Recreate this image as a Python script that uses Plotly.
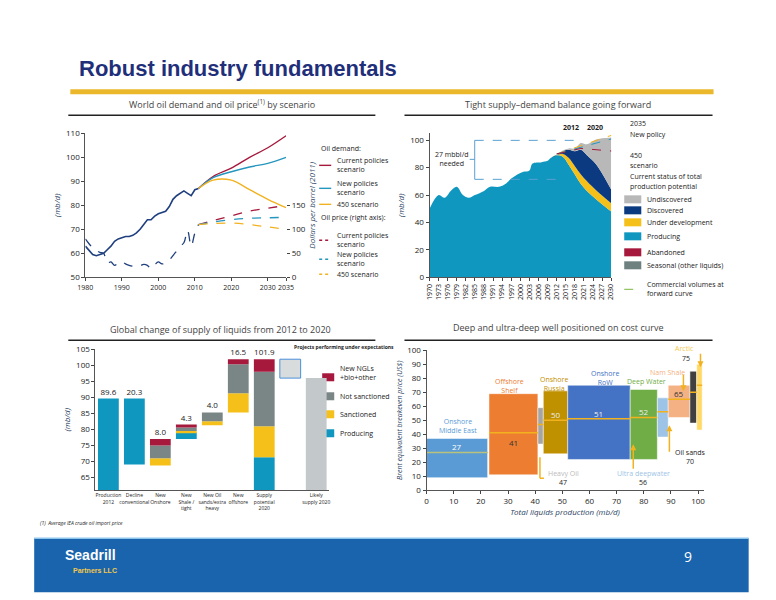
import plotly.graph_objects as go

W, H = 776, 600
# compensation for the small rescale observed in the rendered photograph
def px(x): return ((x - 9.9) / 0.976) / W
def py(y): return 1 - ((y - 5.6) / 0.982) / H

# ---------- Panel 1 data ----------
hist_years = list(range(1980, 2012))
demand_hist = [63, 61, 59.5, 59, 59.5, 60, 61.5, 63, 65, 66, 66.5, 67, 67, 67.5, 68.5, 70,
               72, 74, 74, 75.5, 76.5, 77, 77.5, 79.5, 82.5, 84, 85, 86, 85, 84, 86.5, 87]
price_hist = [80, 70, 62, 56, 52, 50, 30, 32, 25, 30, 33, 28, 25, 23, 22, 24,
              27, 25, 18, 26, 32, 28, 30, 36, 45, 55, 65, 72, 98, 65, 92, 110]
proj_years = [2011, 2015, 2020, 2025, 2030, 2035]
demand_cur = [87, 92, 95.5, 100, 104, 109]
demand_new = [87, 91.5, 94, 96, 97.5, 100]
demand_450 = [87, 90.5, 90.5, 86.5, 82.5, 79]
price_cur = [110, 118, 128, 138, 144, 150]
price_new = [110, 115, 120, 123, 124, 125]
price_450 = [110, 112, 113, 110, 105, 100]

# ---------- Panel 2 data ----------
sup_years = [1970, 1973, 1975, 1977, 1979, 1981, 1983, 1985, 1988, 1990, 1993, 1995, 1997, 1999,
             2001, 2003, 2004, 2007, 2009, 2010, 2012, 2014, 2016, 2018, 2020, 2022, 2025, 2030]
producing = [50, 60, 58, 63, 66, 60, 58, 60, 63, 66, 66, 68, 72, 75, 77, 78, 83, 84, 85, 87, 89,
             88, 82, 75, 68, 63, 57, 48]
under_dev = [0]*20 + [0, 2, 5, 6, 7, 7, 6.5, 6]
discovered = [0]*20 + [0, 2, 6, 11, 18, 19, 19, 10]
undiscovered = [0]*20 + [0, 0.5, 1, 2, 5, 8, 18, 38]

# ---------- Panel 3 data ----------
cats3 = ["Production<br>2012", "Decline<br>conventional", "New<br>Onshore", "New<br>Shale /<br>tight",
         "New Oil<br>sands/extra<br>heavy", "New<br>offshore", "Supply<br>potential<br>2020", " ", "Likely<br>supply 2020"]
prod_base = [0, 69, 0, 77, 0, 0, 0, 0, 0]
prod_len = [89.6, 20.6, 0, 2, 0, 0, 71.3, 0, 0]
sanc_base = [0, 0, 68.7, 79, 81.3, 85.3, 71.3, 0, 0]
sanc_len = [0, 0, 2.3, 0.5, 1.2, 6, 9.7, 0, 0]
nots_base = [0, 0, 71, 79.5, 82.5, 91.3, 81, 0, 0]
nots_len = [0, 0, 4, 1.1, 2.8, 9, 17, 0, 0]
ngl_base = [0, 0, 75, 80.6, 0, 100.3, 98, 0, 0]
ngl_len = [0, 0, 2, 0.9, 0, 1.6, 3.9, 0, 0]
likely_len = [0, 0, 0, 0, 0, 0, 0, 0, 96]
under_base = [0, 0, 0, 0, 0, 0, 0, 96, 0]
under_len = [0, 0, 0, 0, 0, 0, 0, 5.9, 0]
bar_labels = ["89.6", "20.3", "8.0", "4.3", "4.0", "16.5", "101.9", "", ""]
label_y = [89.6, 89.6, 77, 81.5, 85.3, 101.9, 101.9, 0, 0]

# ---------- Panel 4 data ----------
res_names = ["Onshore Middle East", "Offshore Shelf", "Heavy Oil", "Onshore Russia", "Onshore RoW",
             "Deep Water", "Ultra deepwater", "Nam Shale", "Oil sands", "Arctic"]
res_x0 = [0, 23, 41, 43, 52, 75, 85, 89, 97, 99.5]
res_x1 = [22.5, 41, 43, 52, 75, 85, 89, 97, 99.5, 101.5]
res_low = [9, 11, 33, 26, 22, 22, 38, 52, 48, 43]
res_high = [37, 69, 59, 71, 75, 72, 66, 75, 85, 90]
res_be = [27, 41, 47, 50, 51, 52, 56, 65, 70, 75]
res_col = ["#5b9bd5", "#ed7d31", "#a5a5a5", "#bf9000", "#4472c4", "#70ad47", "#9dc3e6", "#f4b183", "#404040", "#ffd966"]

fig = go.Figure()
F = "Open Sans"
NAVY = "#1f2f7a"

# ===== Panel 1 =====
fig.add_trace(go.Scatter(x=hist_years, y=demand_hist, mode="lines", line=dict(color="#1f3f7f", width=1.6), xaxis="x", yaxis="y"))
for d, c in [(demand_cur, "#a6193d"), (demand_new, "#2596be"), (demand_450, "#f2b21f")]:
    fig.add_trace(go.Scatter(x=proj_years, y=d, mode="lines", line=dict(color=c, width=1.4, shape="spline"), xaxis="x", yaxis="y"))
fig.add_trace(go.Scatter(x=hist_years, y=price_hist, mode="lines", line=dict(color="#1f3f7f", width=1.3, dash="dash", shape="spline"), xaxis="x", yaxis="y2"))
for d, c in [(price_cur, "#a6193d"), (price_new, "#2596be"), (price_450, "#f2b21f")]:
    fig.add_trace(go.Scatter(x=proj_years, y=d, mode="lines", line=dict(color=c, width=1.3, dash="dash", shape="spline"), xaxis="x", yaxis="y2"))

# ===== Panel 2 =====
for vals, c in [(producing, "#0f97c0"), (under_dev, "#f5c01a"), (discovered, "#0b3a80"), (undiscovered, "#b8b8b8")]:
    fig.add_trace(go.Scatter(x=sup_years, y=vals, mode="lines", stackgroup="s", line=dict(width=0, shape="spline"),
                             fillcolor=c, xaxis="x2", yaxis="y3"))
for ys, c in [([90, 108], "#f2b21f"), ([90, 104.5], "#2596be"), ([90, 94, 91], "#a6193d")]:
    xs = [2012, 2036] if len(ys) == 2 else [2012, 2020, 2036]
    fig.add_trace(go.Scatter(x=xs, y=ys, mode="lines", line=dict(color=c, width=1, dash="dash"), xaxis="x2", yaxis="y3", cliponaxis=False))

# ===== Panel 3 =====
for base, ln, c in [(prod_base, prod_len, "#0f97c0"), (sanc_base, sanc_len, "#f5c01a"),
                    (nots_base, nots_len, "#7a8686"), (ngl_base, ngl_len, "#a6193d"),
                    ([0]*9, likely_len, "#c3c9ca")]:
    b = [bb if l > 0 else None for bb, l in zip(base, ln)]
    fig.add_trace(go.Bar(x=cats3, y=ln, base=b, marker=dict(color=c, line=dict(width=0)), width=0.8, xaxis="x3", yaxis="y4"))
fig.add_trace(go.Bar(x=cats3, y=under_len, base=under_base, width=0.8, marker=dict(color="#d9dcdd", line=dict(color="#4a90d9", width=1)), xaxis="x3", yaxis="y4"))
fig.add_trace(go.Scatter(x=cats3[:7], y=[v + 0.6 for v in label_y[:7]], text=bar_labels[:7], mode="text", textposition="top center",
                         textfont=dict(size=8, color="#222", family=F), xaxis="x3", yaxis="y4", cliponaxis=False))

# ===== Panel 4 =====
fig.add_trace(go.Bar(x=[(a + b) / 2 for a, b in zip(res_x0, res_x1)], y=[h - l for h, l in zip(res_high, res_low)],
                     base=res_low, width=[b - a for a, b in zip(res_x0, res_x1)],
                     marker=dict(color=res_col, line=dict(color="white", width=0.5)), xaxis="x4", yaxis="y5"))
for a, b, v in zip(res_x0, res_x1, res_be):
    fig.add_trace(go.Scatter(x=[a, b], y=[v, v], mode="lines", line=dict(color="#f2b21f" if v != 27 else "#b9c27a", width=1.5), xaxis="x4", yaxis="y5"))
inside = {27: "white", 41: "#333", 50: "#eee", 51: "#eee", 52: "#eee", 65: "#333"}
for a, b, v, l in zip(res_x0, res_x1, res_be, res_low):
    if v in inside:
        fig.add_annotation(x=(a + b) / 2, y=v + (4 if v != 41 else -7), text=str(v), showarrow=False, xref="x4", yref="y5",
                           font=dict(size=8, color=inside[v], family=F))

tick = dict(size=8, color="#222", family=F)
ax = dict(showgrid=False, zeroline=False, ticks="outside", ticklen=3, tickfont=tick, linecolor="#555", showline=True)
fig.update_layout(
    autosize=True, margin=dict(l=0, r=0, t=0, b=0, pad=0), paper_bgcolor="white", plot_bgcolor="white",
    showlegend=False, barmode="overlay", font=dict(family=F),
    xaxis=dict(ax, domain=[px(87), px(287)], range=[1980, 2035], tickvals=[1980, 1990, 2000, 2010, 2020, 2030, 2035],
               tickangle=0, tickfont=dict(size=7, color="#222", family=F), anchor="y"),
    yaxis=dict(ax, domain=[py(277), py(133)], range=[50, 110], dtick=10, anchor="x",
               title=dict(text="<i>(mb/d)</i>", font=dict(size=8), standoff=4)),
    yaxis2=dict(ax, overlaying="y", side="right", range=[0, 300], tickvals=[0, 50, 100, 150], anchor="x",
                showline=False, title=dict(text="<i>Dollars per barrel (2011)</i>", font=dict(size=8), standoff=2)),
    xaxis2=dict(ax, domain=[px(430), px(611)], range=[1970, 2030], tickvals=list(range(1970, 2031, 3)), tickangle=-90,
                tickfont=dict(size=7, color="#222", family=F), anchor="y3"),
    yaxis3=dict(ax, domain=[py(277), py(133)], range=[0, 105], tickvals=[0, 20, 40, 60, 80, 100], anchor="x2",
                title=dict(text="<i>(mb/d)</i>", font=dict(size=8), standoff=4)),
    xaxis3=dict(ax, domain=[px(97), px(330)], tickangle=0, tickfont=dict(size=5, color="#222", family=F), ticks="", anchor="y4"),
    yaxis4=dict(ax, domain=[py(490), py(349)], range=[61, 105], tickvals=list(range(65, 106, 5)), anchor="x3",
                title=dict(text="<i>(mb/d)</i>", font=dict(size=8), standoff=4)),
    xaxis4=dict(ax, domain=[px(427), px(703)], range=[0, 102], dtick=10, anchor="y5",
                title=dict(text="<i>Total liquids production (mb/d)</i>", font=dict(size=8), standoff=3)),
    yaxis5=dict(ax, domain=[py(490), py(350)], range=[0, 100], dtick=10, anchor="x4",
                title=dict(text="<i>Brent equivalent breakeven price (US$)</i>", font=dict(size=7), standoff=3)),
)

shapes = []
ann = []
def A(x, y, t, size=8, color="#222", xa="left", ya="middle", **k):
    ann.append(dict(x=px(x), y=py(y), xref="paper", yref="paper", text=t, showarrow=False, xanchor=xa, yanchor=ya,
                    align=xa, font=dict(size=size, color=color, family=k.pop("family", F)), **k))
def L(x0, y0, x1, y1, c, w=1, dash="solid"):
    shapes.append(dict(type="line", xref="paper", yref="paper", x0=px(x0), y0=py(y0), x1=px(x1), y1=py(y1), line=dict(color=c, width=w, dash=dash)))
def R(x0, y0, x1, y1, c, lc=None):
    shapes.append(dict(type="rect", xref="paper", yref="paper", x0=px(x0), y0=py(y0), x1=px(x1), y1=py(y1), fillcolor=c,
                       line=dict(width=0 if lc is None else 1, color=lc or c), layer="below"))

# header
A(79, 68, "<b>Robust industry fundamentals</b>", size=22, color=NAVY, family="Liberation Sans")
R(72, 89, 713, 94, "#eab82a")
A(223, 104, "World oil demand and oil price<sup>(1)</sup> by scenario", size=9, color="#444", xa="center")
A(558, 104, "Tight supply\u2013demand balance going forward", size=9, color="#444", xa="center")
A(222, 329, "Global change of supply of liquids from 2012 to 2020", size=9, color="#444", xa="center")
A(558, 327, "Deep and ultra-deep well positioned on cost curve", size=9, color="#444", xa="center")
for y in (115, 340):
    L(70, y, 376, y, "#222", 1.5); L(405, y, 712, y, "#222", 1.5)

# panel 1 legend
A(320, 148, "Oil demand:", size=7)
items = [(165, "Current policies<br>scenario", "#a6193d", "solid"), (188, "New policies<br>scenario", "#2596be", "solid"),
         (204, "450 scenario", "#f2b21f", "solid"), (240, "Current policies<br>scenario", "#a6193d", "dash"),
         (259, "New policies<br>scenario", "#2596be", "dash"), (274, "450 scenario", "#f2b21f", "dash")]
for y, t, c, d in items:
    L(320, y, 332, y, c, 1.4, "dot" if d == "dash" else "solid")
    A(336, y, t, size=7)
A(320, 217, "Oil price (right axis):", size=7)

# panel 2 legend & notes
A(571, 127, "<b>2012</b>", size=7, xa="center"); A(595, 127, "<b>2020</b>", size=7, xa="center")
A(628, 123, "2035", size=7); A(628, 134, "New policy", size=7)
A(628, 155, "450", size=7); A(628, 165, "scenario", size=7)
A(628, 176, "Current status of total", size=7); A(628, 186, "production potential", size=7)
leg2 = [(199, "Undiscovered", "#b8b8b8"), (210, "Discovered", "#0b3a80"), (222, "Under development", "#f5c01a"),
        (236, "Producing", "#0f97c0"), (252, "Abandoned", "#a6193d"), (265, "Seasonal (other liquids)", "#6f8080")]
for y, t, c in leg2:
    R(624, y - 4, 641, y + 4, c); A(645, y, t, size=7)
L(624, 289, 641, 289, "#7cb342", 1, "dash")
A(645, 289, "Commercial volumes at<br>forward curve", size=7)
A(452, 159, "27 mbbl/d<br>needed", size=7, xa="center")
L(475, 140, 579, 140, "#5aa0d0", 1, "dash"); L(475, 179, 560, 179, "#5aa0d0", 1, "dash")
L(475, 140, 475, 179, "#5aa0d0", 1); L(470, 159, 475, 159, "#5aa0d0", 1)

# panel 3 legend
A(293, 347, "<b>Projects performing under expectations</b>", size=5)
for y, t, c in [(377, "New NGLs<br>+bio+other", "#a6193d"), (396, "Not sanctioned", "#7a8686"),
                (414, "Sanctioned", "#f5c01a"), (433, "Producing", "#0f97c0")]:
    R(323, y - 4, 335, y + 4, c); A(339, y - (4 if "<br>" in t else 0), t, size=7)

# panel 4 labels
lab4 = [(458, 426, "Onshore<br>Middle East", "#5b9bd5"), (510, 386, "Offshore<br>Shelf", "#ed7d31"),
        (554, 384, "Onshore<br>Russia", "#bf9000"), (605, 378, "Onshore<br>RoW", "#4472c4"),
        (646, 381, "Deep Water", "#70ad47"), (667, 372, "Nam Shale", "#f4b183"), (684, 348, "Arctic", "#f2c94c"),
        (686, 358, "75", "#222"), (563, 473, "Heavy Oil", "#bbbbbb"), (563, 482, "47", "#222"),
        (643, 473, "Ultra deepwater", "#9dc3e6"), (643, 482, "56", "#222"),
        (690, 452, "Oil sands", "#222"), (690, 461, "70", "#222")]
for x, y, t, c in lab4:
    A(x, y, t, size=7, color=c, xa="center")
for (x0, y0, x1, y1) in [(700, 352, 700, 367), (683, 373, 683, 391), (669, 453, 669, 425), (633, 470, 633, 444)]:
    ann.append(dict(x=px(x1), y=py(y1), ax=x0 - x1, ay=y0 - y1, xref="paper", yref="paper", axref="pixel", ayref="pixel",
                    showarrow=True, arrowhead=2, arrowsize=0.8, arrowwidth=1.5, arrowcolor="#f2b21f", text=""))
L(544, 478, 540, 478, "#f2b21f", 1.5); L(540, 478, 540, 457, "#f2b21f", 1.5)

# footnote & footer
A(40, 523, "<i>(1)  Average IEA crude oil import price</i>", size=5)
R(36, 538, 748, 592, "#1a64ad")
L(36, 538, 748, 538, "#8ec5ec", 1.5)
A(92, 555, "<b>Seadrill</b>", size=14, color="white", xa="center", family="Liberation Sans Narrow, Liberation Sans")
A(97, 570, "<b>Partners LLC</b>", size=7, color="#f2c94c", xa="center", family="Liberation Sans Narrow, Liberation Sans")
A(688, 556, "9", size=14, color="white", xa="center")

fig.update_layout(shapes=shapes, annotations=list(fig.layout.annotations) + ann)
fig.write_html("out.html", default_width="100vw", default_height="100vh", config={"displayModeBar": False},
               post_script="document.body.style.margin='0';document.body.style.overflow='hidden';"
                           "Plotly.Plots.resize(document.getElementById('{plot_id}'));")
